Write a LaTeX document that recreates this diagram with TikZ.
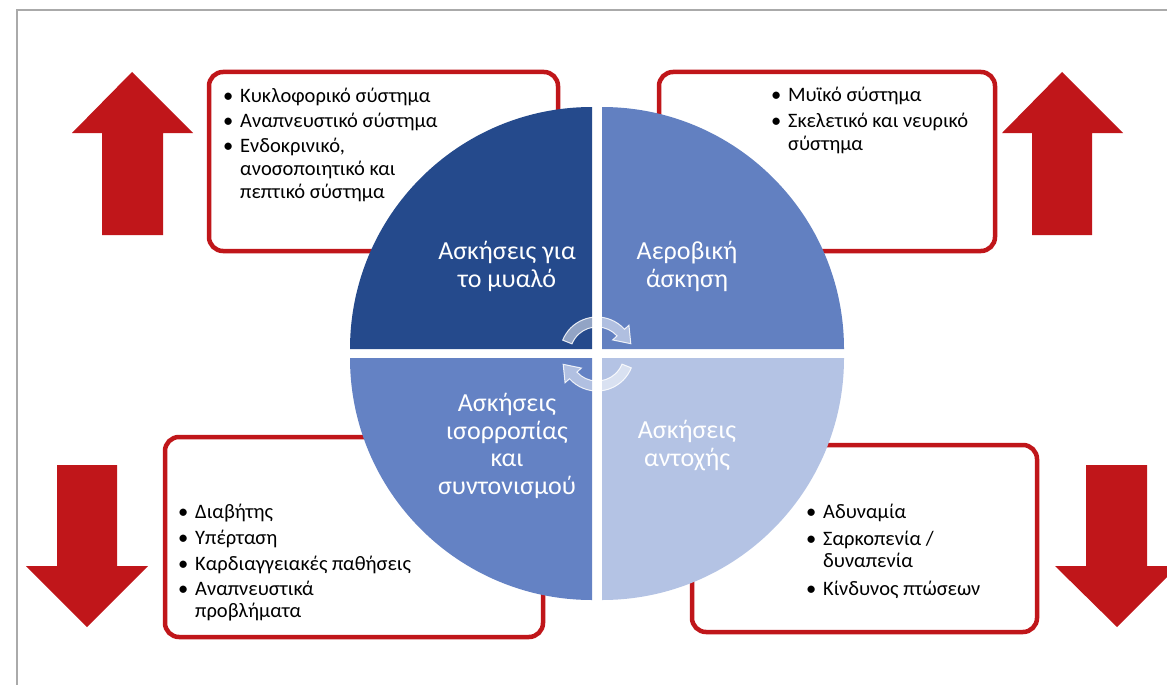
\documentclass[tikz,border=0pt]{standalone}
\usepackage{fontspec}
\setmainfont{Carlito}
\usetikzlibrary{calc}
\definecolor{qone}{RGB}{37,74,140}
\definecolor{qtwo}{RGB}{98,128,193}
\definecolor{qthree}{RGB}{100,130,196}
\definecolor{qfour}{RGB}{180,195,228}
\definecolor{redc}{RGB}{192,22,26}
\definecolor{framegray}{RGB}{170,170,170}
\tikzset{
  rbox/.style={draw=redc, line width=4.5pt, rounded corners=14pt, fill=white},
  bigarrow/.style={fill=redc, draw=none},
  btxt/.style={anchor=base west, inner sep=0pt, font=\fontsize{20.5}{23}\selectfont, text=black},
  bul/.style={anchor=base west, inner sep=0pt, font=\fontsize{20.5}{23}\selectfont, text=black},
  qtxt/.style={anchor=base, inner sep=0pt, align=center, font=\fontsize{26}{27.5}\selectfont, text=white},
  cycarrow/.style={fill=white, fill opacity=0.5, draw=white, draw opacity=0.85, line width=1pt},
}
\begin{document}
\begin{tikzpicture}[x=1pt,y=-1pt]
\useasboundingbox (0,0) rectangle (1167,685);
\fill[white] (0,0) rectangle (1167,685);
% frame
\draw[framegray, line width=1.5pt] (17,685) -- (17,10) -- (1167,10);
% red boxes
\draw[rbox] (209,72) rectangle (558,251);
\draw[rbox] (659,72) rectangle (995,251);
\draw[rbox] (165,437) rectangle (543,637);
\draw[rbox] (692,445) rectangle (1037,632);
% big red arrows
\fill[bigarrow] (132,72) -- (193,133) -- (163,133) -- (163,235) -- (102,235) -- (102,133) -- (72,133) -- cycle;
\fill[bigarrow] (1062,72) -- (1123,133) -- (1092,133) -- (1092,235) -- (1032,235) -- (1032,133) -- (1002,133) -- cycle;
\fill[bigarrow] (87,627) -- (148,566) -- (117,566) -- (117,465) -- (57,465) -- (57,566) -- (26,566) -- cycle;
\fill[bigarrow] (1117,627) -- (1178,566) -- (1147,566) -- (1147,465) -- (1086,465) -- (1086,566) -- (1055,566) -- cycle;
% quadrants
\fill[qone] (592,349) -- (350,349) arc[start angle=180, end angle=270, radius=242] -- cycle;
\fill[qtwo] (602,349) -- (602,107) arc[start angle=270, end angle=360, radius=242] -- cycle;
\fill[qfour] (602,358) -- (844,358) arc[start angle=0, end angle=90, radius=242] -- cycle;
\fill[qthree] (592,358) -- (592,600) arc[start angle=90, end angle=180, radius=242] -- cycle;
% cycle arrows
\begin{scope}[shift={(597,354)}]
\path[cycarrow] (-158:37) arc[start angle=-158, end angle=-42, radius=37] -- (-42:43) -- (33.8,-10.3) -- (-42:21) -- (-42:27) arc[start angle=-42, end angle=-158, radius=27] -- cycle;
\end{scope}
\begin{scope}[shift={(597,354)}, rotate=180]
\path[cycarrow] (-158:37) arc[start angle=-158, end angle=-42, radius=37] -- (-42:43) -- (33.8,-10.3) -- (-42:21) -- (-42:27) arc[start angle=-42, end angle=-158, radius=27] -- cycle;
\end{scope}
% quadrant labels (anchor = baseline of last line)
\node[qtxt] (qa) at (507,287) {Ασκήσεις για\\το μυαλό};
\node[qtxt] (qb) at (687,287) {Αεροβική\\άσκηση};
\node[qtxt] (qc) at (507,494) {Ασκήσεις\\ισορροπίας\\και\\συντονισμού};
\node[qtxt] (qd) at (687,466) {Ασκήσεις\\αντοχής};
% top-left box text
\node[bul] (a1b) at (223,102) {•};
\node[btxt] (a1) at (240,102) {Κυκλοφορικό σύστημα};
\node[bul] (a2b) at (223,127) {•};
\node[btxt] (a2) at (240,127) {Αναπνευστικό σύστημα};
\node[bul] (a3b) at (223,152) {•};
\node[btxt] (a3) at (240,152) {Ενδοκρινικό,};
\node[btxt] (a4) at (240,175) {ανοσοποιητικό και};
\node[btxt] (a5) at (240,198) {πεπτικό σύστημα};
% top-right box text
\node[bul] (b1b) at (771,101) {•};
\node[btxt] (b1) at (788,101) {Μυϊκό σύστημα};
\node[bul] (b2b) at (771,127) {•};
\node[btxt] (b2) at (788,127) {Σκελετικό και νευρικό};
\node[btxt] (b3) at (788,150) {σύστημα};
% bottom-left box text
\node[bul] (c1b) at (178,518) {•};
\node[btxt] (c1) at (195,518) {Διαβήτης};
\node[bul] (c2b) at (178,544) {•};
\node[btxt] (c2) at (195,544) {Υπέρταση};
\node[bul] (c3b) at (178,570) {•};
\node[btxt] (c3) at (195,570) {Καρδιαγγειακές παθήσεις};
\node[bul] (c4b) at (178,595) {•};
\node[btxt] (c4) at (195,595) {Αναπνευστικά};
\node[btxt] (c5) at (195,617) {προβλήματα};
% bottom-right box text
\node[bul] (d1b) at (806,518) {•};
\node[btxt] (d1) at (823,518) {Αδυναμία};
\node[bul] (d2b) at (806,545) {•};
\node[btxt] (d2) at (823,545) {Σαρκοπενία /};
\node[btxt] (d3) at (823,567) {δυναπενία};
\node[bul] (d4b) at (806,595) {•};
\node[btxt] (d4) at (823,595) {Κίνδυνος πτώσεων};
\end{tikzpicture}
\end{document}
